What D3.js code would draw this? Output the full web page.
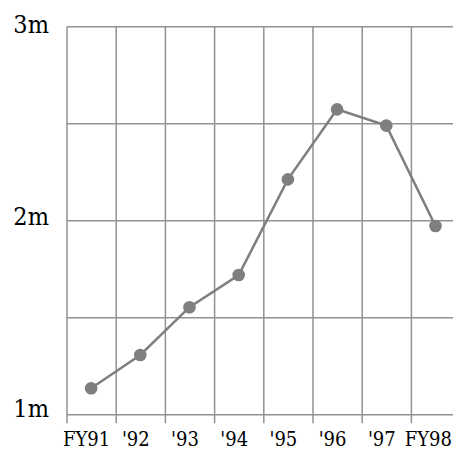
<!DOCTYPE html>
<html>
<head>
<meta charset="utf-8">
<script src="https://cdn.jsdelivr.net/npm/d3@7"></script>
<style>
  html, body { margin: 0; padding: 0; background: #fff; overflow: hidden; }
  svg { display: block; }
  text { font-family: "DejaVu Serif Condensed", "DejaVu Serif", serif; fill: #000; }
</style>
</head>
<body>
<svg id="chart" width="453" height="449"></svg>
<script>
const categories = ["FY91", "'92", "'93", "'94", "'95", "'96", "'97", "FY98"];
const values = [1.136, 1.308, 1.554, 1.72, 2.213, 2.574, 2.49, 1.973]; // millions
const yTicks = [1, 1.5, 2, 2.5, 3];
const yLabelTicks = [1, 2, 3];
const yLabelText = ["1m", "2m", "3m"];

(function () {
const svg = d3.select("#chart");
const W = 453;
const mLeft = 67, mTop = 26.7, mBottom = 414.7, bandW = 49.2;
const mRight = mLeft + bandW * categories.length;

const x = d3.scaleBand().domain(categories).range([mLeft, mRight]).padding(0);
const y = d3.scaleLinear().domain([1, 3]).range([mBottom, mTop]);
const yLab = d3.scaleLinear().domain([1, 3]).range([416.7, 33]);

const gridColor = "#929292";
const g = svg.append("g");

g.selectAll("line.h").data(yTicks).join("line")
  .attr("x1", mLeft).attr("x2", mRight)
  .attr("y1", d => y(d)).attr("y2", d => y(d))
  .attr("stroke", gridColor).attr("stroke-width", 1.5);

const bounds = categories.map(c => x(c));
g.selectAll("line.v").data(bounds).join("line")
  .attr("x1", d => d).attr("x2", d => d)
  .attr("y1", mTop).attr("y2", mBottom + 8.5)
  .attr("stroke", gridColor).attr("stroke-width", 1.5);

g.selectAll("text.yl").data(yLabelTicks).join("text")
  .attr("x", 49).attr("y", d => yLab(d))
  .attr("text-anchor", "end")
  .attr("font-size", 25)
  .text((d, i) => yLabelText[i]);

const xl = g.selectAll("text.xl").data(categories).join("text")
  .attr("x", d => x(d) + x.bandwidth() / 2 - 5)
  .attr("y", 445.5)
  .attr("text-anchor", "middle")
  .attr("font-size", 20)
  .text(d => d);
// keep labels inside the canvas
xl.each(function (d) {
  const w = this.getComputedTextLength();
  const cxl = x(d) + x.bandwidth() / 2 - 5;
  if (cxl + w / 2 > W - 1) d3.select(this).attr("x", W - 1 - w / 2);
});

const cx = d => x(d) + x.bandwidth() / 2 - 0.5;
const line = d3.line().x((d, i) => cx(categories[i])).y(d => y(d));
g.append("path").datum(values)
  .attr("d", line).attr("fill", "none")
  .attr("stroke", "#7f7f7f").attr("stroke-width", 2.5);

g.selectAll("circle").data(values).join("circle")
  .attr("cx", (d, i) => cx(categories[i])).attr("cy", d => y(d))
  .attr("r", 6.3).attr("fill", "#7f7f7f");
})();
</script>
</body>
</html>
